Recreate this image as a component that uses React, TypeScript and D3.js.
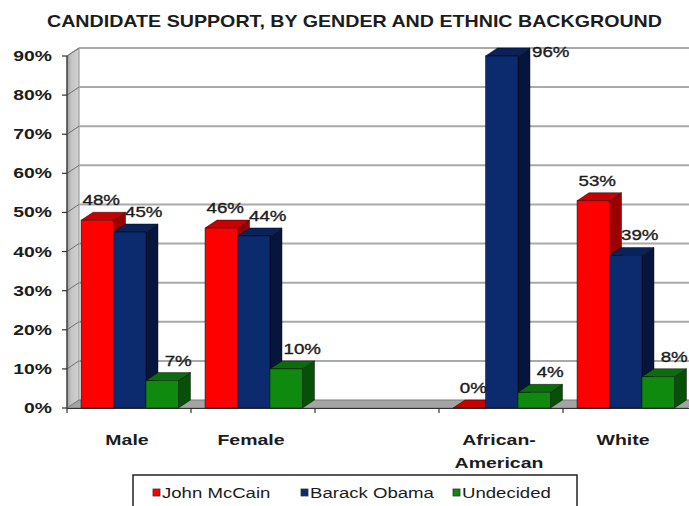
import React from "react";
import * as d3 from "d3";

const title = "CANDIDATE SUPPORT, BY GENDER AND ETHNIC BACKGROUND";
const categories = ["Male", "Female", "", "African-\nAmerican", "White"];
const seriesNames = ["John McCain", "Barack Obama", "Undecided"];
const mccain: (number | null)[] = [48, 46, null, 0, 53];
const obama: (number | null)[] = [45, 44, null, 96, 39];
const undecided: (number | null)[] = [7, 10, null, 4, 8];
const yTicks = [0, 10, 20, 30, 40, 50, 60, 70, 80, 90];

const seriesValues = [mccain, obama, undecided];
const seriesColors = [
  { front: "#ff0000", top: "#c80000", side: "#9a0000" },
  { front: "#0c2a6e", top: "#0a2258", side: "#06153c" },
  { front: "#0f8a0f", top: "#0b6d0b", side: "#084f08" },
];

const W = 689;
const H = 506;
const DX = 12;
const DY = -8;
const FONT = "'Liberation Sans', Arial, sans-serif";
const TEXT = "#1c1c1c";

function SText({ x, y, s = 1.3, anchor = "middle", size = 15, weight = "normal", thick = 0, children }: any) {
  return (
    <g transform={`translate(${x},${y}) scale(${s},1)`}>
      <text
        textAnchor={anchor}
        fontSize={size}
        fontWeight={weight}
        fontFamily={FONT}
        fill={TEXT}
        stroke={thick ? TEXT : "none"}
        strokeWidth={thick}
      >
        {children}
      </text>
    </g>
  );
}

export default function App() {
  const y = d3.scaleLinear().domain([0, 90]).range([408, 56]);
  const x = d3
    .scaleBand<number>()
    .domain(categories.map((_, i) => i))
    .range([67, 687])
    .padding(0);
  const bw = x.bandwidth();
  const barW = bw * 0.262;
  const barOff = bw * 0.113;
  const labelShift = [4, 14, 16];
  const yMax = y.domain()[1];
  const x0 = x.range()[0];
  const x1 = x.range()[1];
  const y0 = y(0);

  const bars: any[] = [];
  const labels: any[] = [];
  categories.forEach((_, ci) => {
    seriesValues.forEach((vals, si) => {
      const v = vals[ci];
      if (v === null) return;
      const c = seriesColors[si];
      const bx = (x(ci) as number) + barOff + si * barW;
      const vt = Math.min(v, yMax);
      const ty = y(vt);
      const stroke = "rgba(0,0,0,0.55)";
      bars.push(
        <g key={`b${ci}-${si}`}>
          <polygon
            points={`${bx + barW},${y0} ${bx + barW + DX},${y0 + DY} ${bx + barW + DX},${ty + DY} ${bx + barW},${ty}`}
            fill={c.side}
            stroke={stroke}
            strokeWidth={0.8}
          />
          <polygon
            points={`${bx},${ty} ${bx + barW},${ty} ${bx + barW + DX},${ty + DY} ${bx + DX},${ty + DY}`}
            fill={c.top}
            stroke={stroke}
            strokeWidth={0.8}
          />
          {v > 0 && (
            <rect x={bx} y={ty} width={barW} height={y0 - ty} fill={c.front} stroke={stroke} strokeWidth={0.8} />
          )}
        </g>
      );
      if (v > yMax) {
        labels.push(
          <SText key={`l${ci}-${si}`} x={bx + barW + DX + 2} y={ty + 1} anchor="start" s={1.25} thick={0.35}>
            {`${v}%`}
          </SText>
        );
      } else {
        labels.push(
          <SText key={`l${ci}-${si}`} x={bx + barW / 2 + labelShift[si]} y={ty + DY - 7} s={1.25} thick={0.35}>
            {`${v}%`}
          </SText>
        );
      }
    });
  });

  return (
    <svg
      width={W}
      height={H}
      style={{ position: "absolute", left: 0, top: 0, background: "#fff", display: "block" }}
    >
      <defs>
        <linearGradient id="wallGrad" x1="0" x2="1" y1="0" y2="0">
          <stop offset="0" stopColor="#9c9c9c" />
          <stop offset="0.35" stopColor="#c4c4c4" />
          <stop offset="1" stopColor="#d2d2d2" />
        </linearGradient>
      </defs>
      <rect x={0} y={0} width={W} height={H} fill="#ffffff" />
      <text
        x={354.5}
        y={27}
        textAnchor="middle"
        fontSize={17}
        fontWeight="bold"
        fontFamily={FONT}
        fill={TEXT}
        textLength={615}
        lengthAdjust="spacingAndGlyphs"
      >
        {title}
      </text>

      {/* side wall */}
      <polygon
        points={`${x0},${y0} ${x0 + DX},${y0 + DY} ${x0 + DX},${y(yMax) + DY} ${x0},${y(yMax)}`}
        fill="url(#wallGrad)"
        stroke="#8a8a8a"
        strokeWidth={1}
      />
      {/* gridlines */}
      {yTicks
        .filter((t) => t > 0)
        .map((t) => (
          <g key={`g${t}`}>
            <line x1={x0 + DX} x2={W} y1={y(t) + DY} y2={y(t) + DY} stroke="#a9a9a9" strokeWidth={2} />
            <line x1={x0} x2={x0 + DX} y1={y(t)} y2={y(t) + DY} stroke="#6e6e6e" strokeWidth={1} />
          </g>
        ))}
      {/* floor */}
      <polygon
        points={`${x0},${y0} ${x1},${y0} ${x1 + DX},${y0 + DY} ${x0 + DX},${y0 + DY}`}
        fill="#a4a4a4"
        stroke="#7a7a7a"
        strokeWidth={1}
      />
      <line x1={x0} x2={W} y1={y0 + 0.5} y2={y0 + 0.5} stroke="#333" strokeWidth={1.2} />
      <line x1={x0} x2={x0} y1={y(yMax)} y2={y0} stroke="#333" strokeWidth={1.2} />
      {yTicks.map((t) => (
        <g key={`t${t}`}>
          <line x1={x0 - 5} x2={x0} y1={y(t)} y2={y(t)} stroke="#333" strokeWidth={1.2} />
          <SText x={52} y={y(t) + 5} anchor="end" size={14} weight="bold" s={1.38}>
            {`${t}%`}
          </SText>
        </g>
      ))}
      {categories.map((_, ci) => (
        <line
          key={`xt${ci}`}
          x1={x(ci) as number}
          x2={x(ci) as number}
          y1={y0}
          y2={y0 + 5}
          stroke="#333"
          strokeWidth={1.2}
        />
      ))}

      {bars}
      {labels}

      {categories.map((c, ci) =>
        c.split("\n").map((line, li) => (
          <SText
            key={`c${ci}-${li}`}
            x={(x(ci) as number) + bw / 2 - 2}
            y={445 + li * 23}
            size={15}
            weight="bold"
            s={1.3}
          >
            {line}
          </SText>
        ))
      )}

      {/* legend */}
      <rect x={133} y={475} width={444} height={40} fill="#fff" stroke="#222" strokeWidth={1.5} />
      {seriesNames.map((n, i) => {
        const lx = [157, 305, 457][i];
        return (
          <g key={`lg${i}`}>
            <rect x={lx - 4} y={489} width={7} height={7} fill={seriesColors[i].front} stroke="#333" strokeWidth={0.8} />
            <SText x={lx + 5} y={498} anchor="start" size={15} s={1.24}>
              {n}
            </SText>
          </g>
        );
      })}
    </svg>
  );
}
